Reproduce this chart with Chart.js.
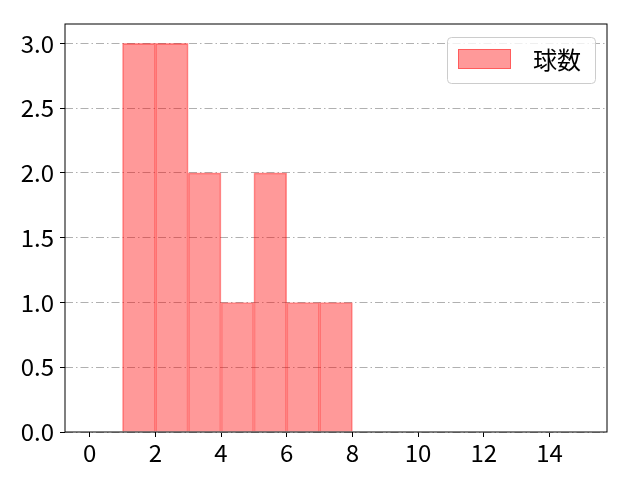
<!DOCTYPE html>
<html>
<head>
<meta charset="utf-8">
<script src="https://cdn.jsdelivr.net/npm/chart.js@4/dist/chart.umd.min.js"></script>
<style>
  html, body { margin: 0; padding: 0; background: #fff; }
  #wrap { width: 640px; height: 480px; }
</style>
</head>
<body>
<div id="wrap"><canvas id="c" width="640" height="480"></canvas></div>
<script>
// histogram bins (left edges) and counts
const binEdges = [1, 2, 3, 4, 5, 6, 7, 8];
const counts = [3, 3, 2, 1, 2, 1, 1];
const seriesLabel = '球数';
const xTicks = [0, 2, 4, 6, 8, 10, 12, 14];
const yTicks = [0, 0.5, 1.0, 1.5, 2.0, 2.5, 3.0];

const FONT = "'Noto Sans CJK JP', 'Noto Sans', sans-serif";

const points = counts.map((c, i) => ({ x: (binEdges[i] + binEdges[i + 1]) / 2, y: c }));

// frame around plot + legend box inside top right
const framePlugin = {
    id: 'frame',
    afterDraw(chart) {
        const { ctx, chartArea: a } = chart;
        ctx.save();
        ctx.strokeStyle = '#000';
        ctx.lineWidth = 1;
        ctx.strokeRect(a.left, a.top, a.right - a.left, a.bottom - a.top);

        // legend
        const bx = 447.5, by = 37.5, bw = 148, bh = 46, r = 4;
        ctx.fillStyle = 'rgba(255,255,255,0.8)';
        ctx.strokeStyle = '#cccccc';
        ctx.beginPath();
        ctx.roundRect(bx, by, bw, bh, r);
        ctx.fill();
        ctx.stroke();
        ctx.fillStyle = 'rgba(255,0,0,0.4)';
        ctx.strokeStyle = 'rgba(255,0,0,0.4)';
        ctx.fillRect(458, 49, 53, 20);
        ctx.strokeRect(458.5, 49.5, 52, 19);
        ctx.fillStyle = '#000';
        ctx.font = '24px ' + FONT;
        ctx.textBaseline = 'middle';
        ctx.textAlign = 'left';
        ctx.fillText(seriesLabel, 533, 60);
        ctx.restore();
    }
};

new Chart(document.getElementById('c'), {
    type: 'bar',
    data: {
        datasets: [{
            label: seriesLabel,
            data: points,
            backgroundColor: 'rgba(255,0,0,0.4)',
            borderColor: 'rgba(255,0,0,0.4)',
            borderWidth: { left: 1, right: 1, top: 1, bottom: 0 },
            barPercentage: 1,
            categoryPercentage: 1,
            grouped: false
        }]
    },
    options: {
        responsive: false,
        animation: false,
        events: [],
        layout: { padding: { top: 24, right: 33, left: 0, bottom: 0 } },
        plugins: {
            legend: { display: false },
            tooltip: { enabled: false }
        },
        scales: {
            x: {
                type: 'linear',
                min: -0.75,
                max: 15.75,
                offset: false,
                afterBuildTicks: s => { s.ticks = xTicks.map(v => ({ value: v })); },
                afterFit: s => { s.height = 48; },
                grid: { offset: false, drawOnChartArea: false, tickLength: 5, tickColor: '#000' },
                border: { display: false },
                ticks: { color: '#000', font: { family: FONT, size: 24 }, padding: 1, maxRotation: 0 }
            },
            y: {
                min: 0,
                max: 3.15,
                afterBuildTicks: s => { s.ticks = yTicks.map(v => ({ value: v })); },
                afterFit: s => { s.width = 65; },
                grid: { color: '#b0b0b0', lineWidth: 1, tickLength: 5, tickColor: '#000' },
                border: { display: false, dash: [8, 3, 1.5, 3] },
                ticks: { color: '#000', font: { family: FONT, size: 24 }, padding: 6, callback: v => v.toFixed(1) }
            }
        }
    },
    plugins: [framePlugin]
});
</script>
</body>
</html>
